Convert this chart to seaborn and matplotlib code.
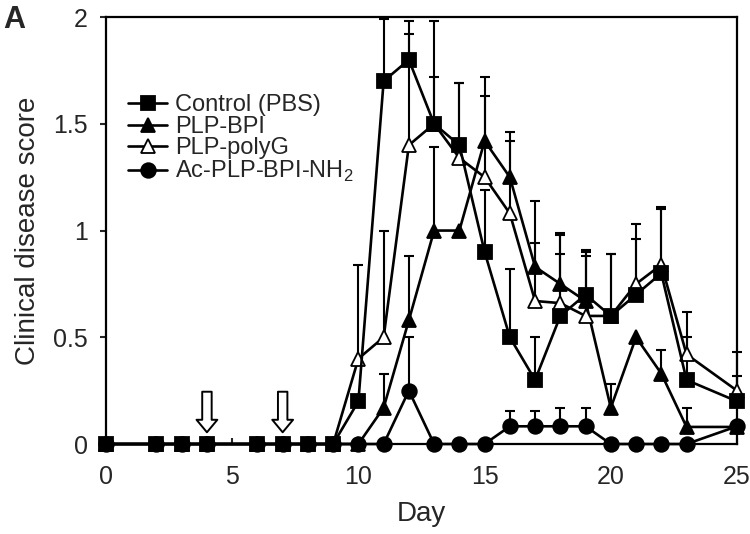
"""Clinical disease score over time for the four treatment groups (panel A)."""

import numpy as np
import pandas as pd
import matplotlib
matplotlib.use('Agg')
import matplotlib.pyplot as plt
import seaborn as sns

sns.set_style('ticks')
plt.rcParams['font.family'] = ['Liberation Sans', 'DejaVu Sans']
plt.rcParams['mathtext.fontset'] = 'custom'
plt.rcParams['mathtext.rm'] = 'Liberation Sans'

DAYS = [0, 2, 3, 4, 6, 7, 8, 9, 10, 11, 12, 13, 14, 15, 16, 17, 18, 19, 20, 21, 22, 23, 25]
INJECTION_DAYS = [4, 7]

CONTROL_MEAN = [0, 0, 0, 0, 0, 0, 0, 0, 0.2, 1.7, 1.8, 1.5, 1.4, 0.9, 0.5, 0.3,
                0.6, 0.7, 0.6, 0.7, 0.8, 0.3, 0.2]
CONTROL_SD = [0, 0, 0, 0, 0, 0, 0, 0, 0, 0.29, 0.18, 0.22, 0.29, 0.29, 0.32, 0.2,
              0.29, 0.21, 0.29, 0.26, 0.3, 0.2, 0.12]

BPI_MEAN = [0, 0, 0, 0, 0, 0, 0, 0, 0, 0.17, 0.58, 1.0, 1.0, 1.42, 1.25, 0.83,
            0.75, 0.67, 0.17, 0.5, 0.33, 0.08, 0.08]
BPI_SD = [0, 0, 0, 0, 0, 0, 0, 0, 0, 0.16, 0.3, 0.39, 0, 0.3, 0.21, 0.31,
          0.24, 0.23, 0.11, 0, 0.11, 0.09, 0]

POLYG_MEAN = [0, 0, 0, 0, 0, 0, 0, 0, 0.4, 0.5, 1.4, 1.5, 1.34, 1.25, 1.08, 0.67,
              0.66, 0.6, 0.6, 0.75, 0.84, 0.42, 0.25]
POLYG_SD = [0, 0, 0, 0, 0, 0, 0, 0, 0.44, 0.5, 0.52, 0.48, 0.35, 0.38, 0.34, 0.27,
            0.32, 0.28, 0.29, 0.28, 0.27, 0.2, 0.18]

AC_MEAN = [0, 0, 0, 0, 0, 0, 0, 0, 0, 0, 0.25, 0, 0, 0, 0.083, 0.083,
           0.083, 0.083, 0, 0, 0, 0, 0.083]
AC_SD = [0, 0, 0, 0, 0, 0, 0, 0, 0, 0, 0.25, 0, 0, 0, 0.07, 0.07,
         0.085, 0.085, 0, 0, 0, 0, 0]

Y_TICKS = [0, 0.5, 1, 1.5, 2]
Y_TICK_LABELS = ['0', '0.5', '1', '1.5', '2']
X_TICKS = [0, 5, 10, 15, 20, 25]

# drawing order: circles over triangles, control squares on top
groups = [
    ('PLP-BPI', BPI_MEAN, BPI_SD, '^', 'black'),
    ('PLP-polyG', POLYG_MEAN, POLYG_SD, '^', 'white'),
    ('Ac-PLP-BPI-NH$_2$', AC_MEAN, AC_SD, 'o', 'black'),
    ('Control (PBS)', CONTROL_MEAN, CONTROL_SD, 's', 'black'),
]
legend_order = ['Control (PBS)', 'PLP-BPI', 'PLP-polyG', 'Ac-PLP-BPI-NH$_2$']

fig, ax = plt.subplots(figsize=(7.5, 5.34), dpi=100)
fig.subplots_adjust(left=0.1413, right=0.9827, top=0.968, bottom=0.1685)

for name, mean, sd, marker, face in groups:
    df = pd.DataFrame({'Day': DAYS, 'Score': mean, 'SD': sd})
    bars = df[df['SD'] > 0]
    eb = ax.errorbar(bars['Day'], bars['Score'], yerr=[np.zeros(len(bars)), bars['SD']],
                     fmt='none', ecolor='black', elinewidth=1.5, capsize=3.6,
                     capthick=1.5, zorder=1, clip_on=False)
    eb[1][0].set_visible(False)
    sns.lineplot(data=df, x='Day', y='Score', ax=ax, color='black', lw=1.9,
                 marker=marker, markersize=10.5, markerfacecolor=face,
                 markeredgecolor='black', markeredgewidth=1.3, label=name,
                 clip_on=False, zorder=3)

for day in INJECTION_DAYS:
    ax.annotate('', xy=(day, 0.055), xytext=(day, 0.245),
                arrowprops=dict(arrowstyle='simple,head_length=0.45,head_width=0.75,tail_width=0.34',
                                fc='white', ec='black', lw=1.4, shrinkA=0, shrinkB=0,
                                mutation_scale=20))

ax.set_xlim(0, 25)
ax.set_ylim(0, 2)
ax.set_xticks(X_TICKS)
ax.set_yticks(Y_TICKS)
ax.set_yticklabels(Y_TICK_LABELS)
ax.tick_params(axis='x', direction='in', length=4, width=1.5, pad=15, labelsize=18)
ax.tick_params(axis='y', direction='out', length=4, width=1.5, pad=9, labelsize=18)
for sp in ax.spines.values():
    sp.set_linewidth(1.6)
    sp.set_color('black')

ax.set_xlabel('Day', fontsize=20, labelpad=9)
ax.set_ylabel('Clinical disease score', fontsize=20, labelpad=9)

handles, labels = ax.get_legend_handles_labels()
lookup = dict(zip(labels, handles))
ax.legend([lookup[l] for l in legend_order], legend_order, frameon=False,
          loc='center left', bbox_to_anchor=(0.035, 0.714), fontsize=17,
          handlelength=1.65, handletextpad=0.35, labelspacing=-0.02,
          borderpad=0, borderaxespad=0)

fig.text(0.004, 0.962, 'A', fontsize=22, fontweight='bold', va='center', ha='left')

fig.savefig('out.png', dpi=100)
